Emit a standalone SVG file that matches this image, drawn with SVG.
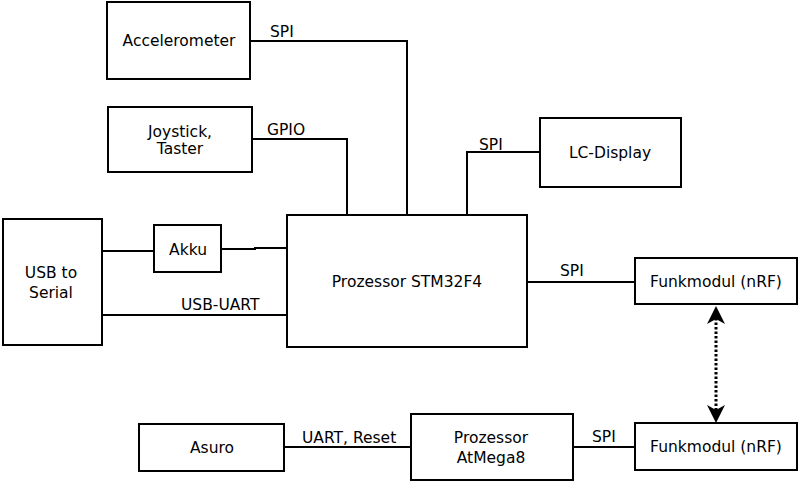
<svg xmlns="http://www.w3.org/2000/svg" width="799" height="482" viewBox="0 0 799 482">
<style>
.box{fill:#fff;stroke:#000;stroke-width:2}
.ln{fill:none;stroke:#000;stroke-width:2}
.ah{fill:#000;stroke:none}
text{font-family:"DejaVu Sans",sans-serif;font-size:15.5px;fill:#000}
.c{text-anchor:middle}
</style>
<rect width="799" height="482" fill="#fff"/>
<g id="connectors">
<polyline class="ln" points="250,41 407,41 407,215"/>
<polyline class="ln" points="252,139 347,139 347,215"/>
<polyline class="ln" points="540,152 467,152 467,215"/>
<line class="ln" x1="527" y1="282" x2="635" y2="282"/>
<line class="ln" x1="102" y1="251" x2="154" y2="251"/>
<polyline class="ln" points="221,249 255,249 255,248 287,248"/>
<line class="ln" x1="102" y1="315" x2="287" y2="315"/>
<line class="ln" x1="284" y1="447" x2="411" y2="447"/>
<line class="ln" x1="573" y1="447" x2="635" y2="447"/>
<line x1="716" y1="318" x2="716" y2="411" stroke="#000" stroke-width="3" stroke-dasharray="2.5,2"/>
<path class="ah" d="M716,306 L725,324 L716,319 L707,324 Z"/>
<path class="ah" d="M716,423 L725,405 L716,410 L707,405 Z"/>
<text x="270" y="37">SPI</text>
<text x="267" y="135">GPIO</text>
<text x="479" y="150">SPI</text>
<text x="560" y="276">SPI</text>
<text x="181" y="310">USB-UART</text>
<text x="302" y="443">UART, Reset</text>
<text x="592" y="442">SPI</text>
</g>
<g id="accelerometer"><rect class="box" x="107" y="2" width="143" height="77"/><text class="c" x="179" y="46">Accelerometer</text></g>
<g id="joystick"><rect class="box" x="108" y="107" width="144" height="65"/><text class="c" x="180" y="137">Joystick,</text><text class="c" x="180" y="154">Taster</text></g>
<g id="lcdisplay"><rect class="box" x="540" y="118" width="141" height="69"/><text class="c" x="610" y="158">LC-Display</text></g>
<g id="stm32"><rect class="box" x="287" y="215" width="240" height="132"/><text class="c" x="407" y="287">Prozessor STM32F4</text></g>
<g id="usbserial"><rect class="box" x="3" y="219" width="99" height="126"/><text class="c" x="51" y="278">USB to</text><text class="c" x="51" y="298">Serial</text></g>
<g id="akku"><rect class="box" x="154" y="225" width="67" height="47"/><text class="c" x="188" y="255">Akku</text></g>
<g id="funk1"><rect class="box" x="635" y="258" width="162" height="46"/><text class="c" x="716" y="287">Funkmodul (nRF)</text></g>
<g id="asuro"><rect class="box" x="139" y="424" width="145" height="47"/><text class="c" x="212" y="453">Asuro</text></g>
<g id="atmega"><rect class="box" x="411" y="414" width="162" height="66"/><text class="c" x="491" y="443">Prozessor</text><text class="c" x="491" y="463">AtMega8</text></g>
<g id="funk2"><rect class="box" x="635" y="423" width="162" height="47"/><text class="c" x="716" y="452">Funkmodul (nRF)</text></g>
</svg>
